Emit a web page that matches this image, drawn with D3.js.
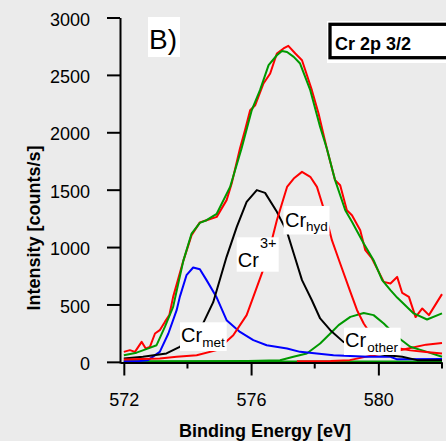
<!DOCTYPE html>
<html>
<head>
<meta charset="utf-8">
<script src="https://cdn.jsdelivr.net/npm/d3@7"></script>
<style>
	body { margin: 0; background: #ebebeb; }
	svg { display: block; font-family: "Liberation Sans", Arial, sans-serif; }
</style>
</head>
<body>
<svg class="svgWrapper" width="446" height="441"></svg>
<script>
// binding energy [eV], intensity [counts/s]
const rawData = [[572.0,87],[572.19,102],[572.35,87],[572.56,174],[572.69,117],[572.82,131],[572.98,247],[573.13,276],[573.29,348],[573.43,407],[573.55,566],[573.87,880],[574.13,1104],[574.39,1215],[574.6,1234],[574.92,1263],[575.23,1409],[575.39,1554],[575.65,1859],[575.81,2019],[575.97,2192],[576.13,2236],[576.39,2425],[576.6,2512],[576.81,2686],[577.02,2730],[577.17,2753],[577.39,2686],[577.6,2628],[577.91,2367],[578.12,2164],[578.38,1859],[578.64,1583],[578.8,1539],[579.01,1321],[579.17,1278],[579.43,1147],[579.59,973],[579.8,901],[580.17,697],[580.38,683],[580.59,740],[580.75,600],[580.96,566],[581.17,390],[581.38,465],[581.59,407],[582.0,590]];
const envelope = [[572.0,58],[572.4,80],[572.77,117],[573.03,145],[573.29,305],[573.55,479],[573.87,880],[574.13,1118],[574.39,1211],[574.6,1234],[574.92,1290],[575.34,1524],[575.7,1859],[576.02,2192],[576.28,2367],[576.55,2585],[576.81,2671],[576.97,2709],[577.13,2700],[577.34,2657],[577.54,2599],[577.86,2367],[578.17,2047],[578.38,1859],[578.64,1583],[578.96,1321],[579.17,1220],[579.54,1031],[579.85,886],[580.12,712],[580.38,625],[580.59,560],[581.11,422],[581.53,369],[582.0,422]];
const crMet = [[572.0,5],[572.5,8],[572.76,15],[573.13,87],[573.4,247],[573.66,450],[573.76,566],[573.97,755],[574.18,822],[574.39,807],[574.6,712],[574.92,560],[575.23,363],[575.65,261],[576.07,189],[576.49,145],[577.13,117],[577.54,87],[578.59,58],[579.64,44],[580.38,44],[580.59,22],[582.0,25]];
const cr3plus = [[572.0,30],[572.6,44],[573.34,73],[573.66,117],[573.76,131],[574.39,276],[574.81,520],[575.23,915],[575.55,1176],[575.86,1394],[576.18,1496],[576.44,1472],[576.81,1307],[577.13,1132],[577.34,944],[577.6,712],[577.91,537],[578.17,378],[578.49,276],[578.9,174],[579.5,95],[580.2,60],[580.75,44],[581.22,15],[582.0,15]];
const crHyd = [[572.0,21],[573.13,30],[573.66,44],[574.29,58],[574.92,102],[575.44,232],[575.86,407],[576.07,566],[576.49,886],[576.81,1234],[577.13,1524],[577.34,1597],[577.6,1655],[577.86,1612],[578.07,1524],[578.33,1293],[578.54,1060],[578.8,857],[579.12,610],[579.33,450],[579.54,334],[579.85,204],[580.17,150],[580.59,120],[581.0,100],[581.5,85],[582.0,73]];
const crOther = [[572.0,3],[575.9,8],[576.91,14],[577.33,44],[577.75,73],[578.17,160],[578.49,247],[578.75,320],[579.12,392],[579.54,425],[579.85,407],[580.17,334],[580.59,218],[581.0,131],[581.53,87],[582.0,44]];
const backgroundRed = [[577.44,5],[578.5,8],[579.1,15],[579.7,50],[580.3,80],[580.9,115],[581.5,150],[582.0,165]];
const baseline = [[572.0,3],[582.0,3]];

const yTicks = [0, 500, 1000, 1500, 2000, 2500, 3000];
const xMajorTicks = [572, 576, 580];
const xMinorTicks = [574, 578, 582];

const svgObj = d3.select('.svgWrapper');

const x = d3.scaleLinear().domain([571.88, 582]).range([120, 442]);
const y = d3.scaleLinear().domain([-10, 3000]).range([363, 17.5]);

const lineGen = d3.line().x(d => x(d[0])).y(d => y(d[1]));

//series in drawing order
const series = [
	{data: baseline, color: '#009900'},
	{data: backgroundRed, color: '#ff0000'},
	{data: crOther, color: '#009900'},
	{data: crMet, color: '#0000ff'},
	{data: cr3plus, color: '#000000'},
	{data: crHyd, color: '#ff0000'},
	{data: rawData, color: '#ff0000'},
	{data: envelope, color: '#009900'}
];

svgObj.selectAll('path.series')
	.data(series)
	.enter().append('path')
	.attr('class', 'series')
	.attr('d', d => lineGen(d.data))
	.attr('fill', 'none')
	.attr('stroke', d => d.color)
	.attr('stroke-width', 2)
	.attr('stroke-linejoin', 'round');

//axes
const yAxis = svgObj.append('g')
	.attr('transform', 'translate(120,0)')
	.call(d3.axisLeft(y).tickValues(yTicks).tickFormat(d3.format('d'))
		.tickSize(13).tickSizeOuter(0).tickPadding(17));

const xAxis = svgObj.append('g')
	.attr('transform', 'translate(0,362.5)')
	.call(d3.axisBottom(x).tickValues(xMajorTicks).tickFormat(d3.format('d'))
		.tickSize(13).tickSizeOuter(0).tickPadding(18));

xAxis.selectAll('.minor')
	.data(xMinorTicks)
	.enter().append('line')
	.attr('class', 'minor')
	.attr('x1', d => x(d)).attr('x2', d => x(d))
	.attr('y1', 0).attr('y2', 6)
	.attr('stroke', '#000').attr('stroke-width', 2);

[yAxis, xAxis].forEach(a => {
	a.select('.domain').attr('stroke', '#000').attr('stroke-width', 2);
	a.selectAll('.tick line').attr('stroke', '#000').attr('stroke-width', 2);
	a.selectAll('.tick text')
		.attr('fill', '#000')
		.style('font-family', '"Liberation Sans", Arial, sans-serif')
		.style('font-size', '18px');
});
yAxis.selectAll('.tick text').attr('dy', '0.42em');

//axis titles
svgObj.append('text')
	.attr('x', 265).attr('y', 437)
	.attr('text-anchor', 'middle')
	.style('font-weight', 'bold').style('font-size', '18px')
	.text('Binding Energy [eV]');

svgObj.append('text')
	.attr('transform', 'translate(40,228) rotate(-90)')
	.attr('text-anchor', 'middle')
	.style('font-weight', 'bold').style('font-size', '18px')
	.text('Intensity [counts/s]');

//panel label
svgObj.append('rect').attr('x', 148).attr('y', 17).attr('width', 32).attr('height', 40).attr('fill', '#fff');
svgObj.append('text').attr('x', 149).attr('y', 48.5).style('font-size', '28px').text('B)');

//title box
svgObj.append('rect').attr('x', 327).attr('y', 21).attr('width', 130).attr('height', 42).attr('fill', '#fff');
svgObj.append('rect').attr('x', 330).attr('y', 24.3).attr('width', 130).attr('height', 33.4)
	.attr('fill', 'none').attr('stroke', '#000').attr('stroke-width', 3.3);
svgObj.append('text').attr('x', 335).attr('y', 49.5)
	.style('font-weight', 'bold').style('font-size', '18px').text('Cr 2p 3/2');

//component labels
const compLabels = [
	{box: [283.5, 206, 46, 28.5], x: 285, y: 227.3, sub: 'hyd', subX: 306, subY: 230.5, subSize: 13.5},
	{box: [236.7, 237.3, 42, 34.4], x: 237.7, y: 267.3, sub: '3+', subX: 260, subY: 248, subSize: 14.5},
	{box: [180, 322.3, 46.7, 28.7], x: 181, y: 342.3, sub: 'met', subX: 202.3, subY: 346.5, subSize: 13.5},
	{box: [344, 327.7, 56.7, 27.3], x: 345, y: 347.3, sub: 'other', subX: 367.3, subY: 351.5, subSize: 13.5}
];

const labelG = svgObj.selectAll('g.compLabel')
	.data(compLabels)
	.enter().append('g')
	.attr('class', 'compLabel');

labelG.append('rect')
	.attr('x', d => d.box[0]).attr('y', d => d.box[1])
	.attr('width', d => d.box[2]).attr('height', d => d.box[3])
	.attr('fill', '#fff');
labelG.append('text')
	.attr('x', d => d.x).attr('y', d => d.y)
	.style('font-size', '20px').text('Cr');
labelG.append('text')
	.attr('x', d => d.subX).attr('y', d => d.subY)
	.style('font-size', d => d.subSize + 'px').text(d => d.sub);
</script>
</body>
</html>
